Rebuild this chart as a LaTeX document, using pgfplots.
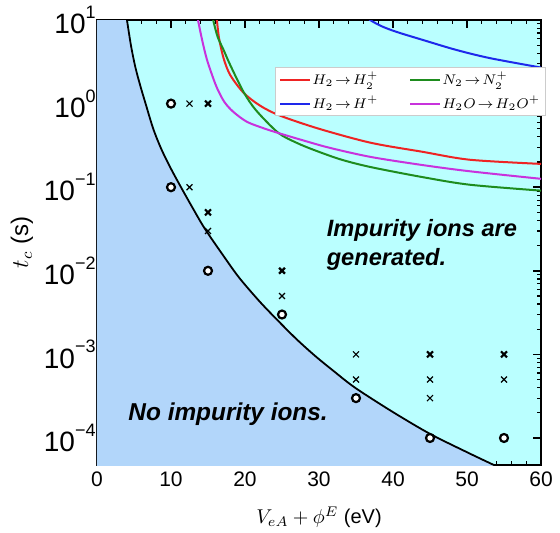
\documentclass[border=0pt]{standalone}
\usepackage{fontspec}
\setmainfont{Liberation Sans}
\usepackage{pgfplots}
\pgfplotsset{compat=1.18}
\definecolor{lowblue}{RGB}{178,214,250}
\definecolor{highcyan}{RGB}{186,255,255}
\definecolor{cred}{RGB}{238,35,35}
\definecolor{cgreen}{RGB}{30,140,30}
\definecolor{cblue}{RGB}{30,40,235}
\definecolor{cmag}{RGB}{200,50,220}
\newcommand{\ylab}[1]{10\raisebox{0.55em}{\fontsize{9}{9}\selectfont #1}}

\begin{document}
\begin{tikzpicture}
\begin{axis}[
  scale only axis, width=222pt, height=222.5pt,
  xmin=0, xmax=60, ymode=log, ymin=4.75e-5, ymax=10,
  axis background/.style={fill=highcyan},
  axis line style={line width=0.9pt},
  xtick={0,10,...,60}, minor x tick num=4,
  ytick={1e-4,1e-3,1e-2,1e-1,1,10},
  yticklabels={\ylab{−4},\ylab{−3},\ylab{−2},\ylab{−1},\ylab{0},\ylab{1}},
  tick align=inside, xtick pos=both, ytick pos=both,
  major tick length=4pt, minor tick length=2.2pt,
  every major tick/.style={line width=0.8pt, black},
  every minor tick/.style={line width=0.6pt, black},
  /pgf/number format/assume math mode=true,
  xticklabel style={font=\fontsize{10.5}{12}\selectfont},
  yticklabel style={font=\fontsize{14}{15}\selectfont, inner xsep=0.5pt},
  xlabel={$V_{eA}+\phi^{E}$ (eV)}, ylabel={$t_c$ (s)},
  xlabel style={font=\fontsize{10}{12}\selectfont, at={(axis description cs:0.5,-0.117)}, anchor=center},
  ylabel style={font=\fontsize{12}{14}\selectfont, at={(axis description cs:-0.169,0.5)}, anchor=center},
  legend columns=2,
  legend style={at={(0.401,0.894)}, anchor=north west, draw=gray!40, fill=white,
    font=\fontsize{7.2}{8}\selectfont, nodes={inner sep=0.5pt},
    inner xsep=2pt, inner ysep=1.5pt, row sep=3pt},
  legend cell align=left,
  legend image code/.code={\draw[#1, line width=1pt] (0pt,0pt) -- (15pt,0pt);},
  /tikz/every even column/.append style={column sep=15pt},
]
% region without impurity ions
\addplot[draw=none, fill=lowblue, smooth, forget plot] coordinates {
  (3.9,12.3) (4.05,10) (4.6,4.9) (5.2,2.69) (5.9,1.58) (6.6,0.977) (7.6,0.50)
  (8.7,0.285) (10,0.166) (11.35,0.10) (13,0.055) (14.6,0.0316) (17,0.0155)
  (19.2,8.3e-3) (22,4.27e-3) (24.5,2.51e-3) (27,1.51e-3) (29.5,9.55e-4)
  (32,6.3e-4) (34.9,3.98e-4) (40,2.04e-4) (45,1.12e-4) (50,6.76e-5)
  (53.1,5.0e-5) (55,4.17e-5)
} -- (axis cs:0,4.17e-5) -- (axis cs:0,12.3) -- cycle;
\addplot[black, line width=0.9pt, smooth, forget plot] coordinates {
  (3.9,12.3) (4.05,10) (4.6,4.9) (5.2,2.69) (5.9,1.58) (6.6,0.977) (7.6,0.50)
  (8.7,0.285) (10,0.166) (11.35,0.10) (13,0.055) (14.6,0.0316) (17,0.0155)
  (19.2,8.3e-3) (22,4.27e-3) (24.5,2.51e-3) (27,1.51e-3) (29.5,9.55e-4)
  (32,6.3e-4) (34.9,3.98e-4) (40,2.04e-4) (45,1.12e-4) (50,6.76e-5)
  (53.1,5.0e-5) (55,4.17e-5)
};
% ionisation curves
\addplot[cred, line width=1pt, smooth] coordinates {
  (16.1,12) (16.2,10) (16.5,6.0) (17.1,3.5) (18.0,2.2) (19.8,1.35) (22,0.95)
  (24.7,0.72) (30,0.5) (37,0.34) (44,0.265) (50.4,0.213) (60,0.19)
};
\addlegendentry{$H_2\!\rightarrow\! H_2^{+}$}
\addplot[cgreen, line width=1pt, smooth] coordinates {
  (15.6,12) (15.7,10) (16.3,6.3) (17.1,4.4) (18.0,2.9) (19.8,1.38) (21.5,0.83)
  (24.5,0.447) (27,0.339) (29.5,0.275) (33,0.214) (37,0.174) (44,0.132)
  (50.4,0.107) (60,0.091)
};
\addlegendentry{$N_2\!\rightarrow\! N_2^{+}$}
\addplot[cblue, line width=1pt, smooth] coordinates {
  (36.5,11) (36.9,10) (38.5,8.4) (40.5,7.2) (44.1,5.75) (48.5,4.4) (53.1,3.5) (60,2.7)
};
\addlegendentry{$H_2\!\rightarrow\! H^{+}$}
\addplot[cmag, line width=1pt, smooth] coordinates {
  (13.55,12) (13.65,10) (14.2,5.8) (14.8,3.5) (15.4,2.4) (16.2,1.55) (17.2,1.05)
  (18.4,0.80) (20.2,0.61) (22.3,0.515) (24.5,0.445) (28,0.36) (31.5,0.295)
  (37,0.23) (44,0.184) (50.4,0.155) (60,0.126)
};
\addlegendentry{$H_2O\!\rightarrow\! H_2O^{+}$}
% measurements: no impurity ions
\addplot[only marks, mark=*, mark size=2pt, forget plot,
  mark options={draw=black, fill=white, line width=1.1pt}] coordinates {
  (10,1) (10,0.1) (15,0.01) (25,3e-3) (35,3e-4) (45,1e-4) (55,1e-4)
};
% measurements: impurity ions detected
\addplot[only marks, mark=x, mark size=2.1pt, forget plot,
  mark options={draw=black, line width=1.1pt}] coordinates {
  (15,1) (15,0.05) (25,0.01) (45,1e-3) (55,1e-3)
};
\addplot[only marks, mark=x, mark size=2.1pt, forget plot,
  mark options={draw=black, line width=0.6pt}] coordinates {
  (12.5,1) (12.5,0.1) (15,0.03) (25,5e-3) (35,1e-3) (35,5e-4)
  (45,5e-4) (45,3e-4) (55,5e-4)
};
\node[anchor=west, align=left, inner sep=0pt, font=\bfseries\itshape\fontsize{11.8}{14.5}\selectfont]
  at (axis cs:31.0,0.0205) {Impurity ions are\\generated.};
\node[anchor=west, inner sep=0pt, font=\bfseries\itshape\fontsize{12.2}{14}\selectfont]
  at (axis cs:4.2,1.95e-4) {No impurity ions.};
\end{axis}
\pgfresetboundingbox
\path[use as bounding box] ([xshift=-48.5pt,yshift=-33.5pt]current axis.south west)
  rectangle ([xshift=9.5pt,yshift=10pt]current axis.north east);
\end{tikzpicture}
\end{document}
